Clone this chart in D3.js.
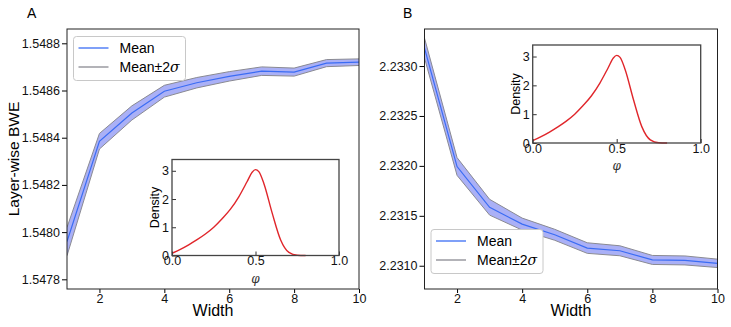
<!DOCTYPE html>
<html>
<head>
<meta charset="utf-8">
<script src="https://cdn.jsdelivr.net/npm/d3@7"></script>
<style>
  body { margin: 0; background: #fff; }
  svg { display: block; font-family: "Liberation Sans", Arial, sans-serif; }
</style>
</head>
<body>
<div id="chart"></div>
<script>
// widths on the x axis
const widths = [1, 2, 3, 4, 5, 6, 7, 8, 9, 10];

// panel A: layer-wise BWE
const meanA  = [1.54796, 1.548385, 1.548505, 1.548597, 1.548633, 1.548660, 1.548682, 1.548678, 1.548716, 1.548720];
const lowerA = [1.54790, 1.548352, 1.548475, 1.548572, 1.548611, 1.548640, 1.548664, 1.548661, 1.548701, 1.548706];
const upperA = [1.54802, 1.548418, 1.548535, 1.548622, 1.548655, 1.548680, 1.548700, 1.548695, 1.548731, 1.548734];

// panel B
const meanB  = [2.23318, 2.231993, 2.231585, 2.231417, 2.231310, 2.231177, 2.231150, 2.231058, 2.231053, 2.231024];
const lowerB = [2.23308, 2.231905, 2.231507, 2.231357, 2.231255, 2.231124, 2.231100, 2.231013, 2.231008, 2.230982];
const upperB = [2.23328, 2.232083, 2.231665, 2.231477, 2.231365, 2.231230, 2.231200, 2.231103, 2.231098, 2.231066];

// inset density curve (same in both panels)
const phi     = [0, 0.05, 0.10, 0.15, 0.20, 0.25, 0.30, 0.35, 0.40, 0.45, 0.48, 0.50, 0.52, 0.55, 0.60, 0.65, 0.70, 0.75, 0.80];
const density = [0.08, 0.22, 0.38, 0.56, 0.76, 1.0, 1.3, 1.64, 2.08, 2.62, 2.95, 3.04, 2.97, 2.55, 1.5, 0.56, 0.11, 0.01, 0];

const ticksX = [2, 4, 6, 8, 10];
const ticksA = [1.5478, 1.5480, 1.5482, 1.5484, 1.5486, 1.5488];
const ticksB = [2.2310, 2.2315, 2.2320, 2.2325, 2.2330];
const insetTicksX = [0, 0.5, 1];
const insetTicksY = [0, 1, 2, 3];

const svgWidth = 731, svgHeight = 327;

const svg = d3.select("#chart").append("svg")
    .attr("width", svgWidth)
    .attr("height", svgHeight);

const fillColor = "#aab0f6";
const edgeColor = "#8a8a92";
const meanColor = "#3a6cf4";

function drawPanel(cfg) {
    const x = d3.scaleLinear().domain([1, 10]).range([cfg.left, cfg.right]);
    const y = d3.scaleLinear().domain(cfg.yDomain).range([cfg.bottom, cfg.top]);

    const clipId = "clip" + cfg.label;
    svg.append("clipPath").attr("id", clipId)
        .append("rect")
        .attr("x", cfg.left).attr("y", cfg.top)
        .attr("width", cfg.right - cfg.left).attr("height", cfg.bottom - cfg.top);

    const g = svg.append("g").attr("clip-path", `url(#${clipId})`);
    const pts = widths.map((w, i) => ({ w: w, m: cfg.mean[i], lo: cfg.lower[i], hi: cfg.upper[i] }));

    g.append("path")
        .datum(pts)
        .attr("fill", fillColor)
        .attr("d", d3.area().x(d => x(d.w)).y0(d => y(d.lo)).y1(d => y(d.hi)));

    ["lo", "hi"].forEach(k => {
        g.append("path")
            .datum(pts)
            .attr("fill", "none")
            .attr("stroke", edgeColor)
            .attr("stroke-width", 1)
            .attr("d", d3.line().x(d => x(d.w)).y(d => y(d[k])));
    });

    g.append("path")
        .datum(pts)
        .attr("fill", "none")
        .attr("stroke", meanColor)
        .attr("stroke-width", 1.2)
        .attr("d", d3.line().x(d => x(d.w)).y(d => y(d.m)));

    // axes
    const xAxis = svg.append("g")
        .attr("transform", `translate(0,${cfg.bottom})`)
        .call(d3.axisBottom(x).tickValues(ticksX).tickSize(4).tickPadding(1).tickFormat(d3.format("d")));
    const yAxis = svg.append("g")
        .attr("transform", `translate(${cfg.left},0)`)
        .call(d3.axisLeft(y).tickValues(cfg.yTicks).tickSize(5).tickPadding(2).tickFormat(d3.format(".4f")));
    [xAxis, yAxis].forEach(a => {
        a.select(".domain").remove();
        a.selectAll(".tick line").attr("stroke", "#000");
        a.selectAll(".tick text").attr("font-size", "12.5px").attr("fill", "#111")
            .attr("font-family", "Liberation Sans, Arial, sans-serif");
    });

    svg.append("rect")
        .attr("x", cfg.left).attr("y", cfg.top)
        .attr("width", cfg.right - cfg.left).attr("height", cfg.bottom - cfg.top)
        .attr("fill", "none").attr("stroke", "#222").attr("stroke-width", 1);

    svg.append("text")
        .attr("x", (cfg.left + cfg.right) / 2)
        .attr("y", 316)
        .attr("text-anchor", "middle")
        .attr("font-size", "16px")
        .text("Width");

    if (cfg.yLabel) {
        svg.append("text")
            .attr("transform", `translate(18.5,${(cfg.top + cfg.bottom) / 2}) rotate(-90)`)
            .attr("text-anchor", "middle")
            .attr("font-size", "15.5px")
            .text(cfg.yLabel);
    }

    svg.append("text")
        .attr("x", cfg.labelX).attr("y", 18)
        .attr("font-size", "14px")
        .text(cfg.label);

    drawLegend(cfg.legend);
    drawInset(cfg.inset);
}

function drawLegend(box) {
    svg.append("rect")
        .attr("x", box.x).attr("y", box.y)
        .attr("width", 112).attr("height", 44)
        .attr("rx", 3)
        .attr("fill", "#fff").attr("stroke", "#c8c8c8");
    const items = [
        { color: meanColor, text: "Mean" },
        { color: edgeColor, text: "Mean±2σ" }
    ];
    items.forEach((item, i) => {
        const yy = box.y + 11.5 + i * 19;
        svg.append("line")
            .attr("x1", box.x + 5).attr("x2", box.x + 35)
            .attr("y1", yy).attr("y2", yy)
            .attr("stroke", item.color).attr("stroke-width", 1.3);
        const t = svg.append("text")
            .attr("x", box.x + 46).attr("y", yy + 5)
            .attr("font-size", "14px");
        if (i === 0) {
            t.text(item.text);
        } else {
            t.append("tspan").text("Mean±2");
            t.append("tspan").attr("font-style", "italic").attr("font-family", "DejaVu Serif, serif").text("σ");
        }
    });
}

function drawInset(box) {
    const ix = d3.scaleLinear().domain([0, 1]).range([box.x, box.x + box.w]);
    const iy = d3.scaleLinear().domain([0, 3.4]).range([box.y + box.h, box.y]);

    svg.append("rect")
        .attr("x", box.x).attr("y", box.y)
        .attr("width", box.w).attr("height", box.h)
        .attr("fill", "#fff").attr("stroke", "none");

    const pts = phi.map((p, i) => ({ p: p, d: density[i] }));
    svg.append("path")
        .datum(pts)
        .attr("fill", "none")
        .attr("stroke", "#e0262b")
        .attr("stroke-width", 1.4)
        .attr("d", d3.line().x(d => ix(d.p)).y(d => iy(d.d)).curve(d3.curveMonotoneX));

    const ax = svg.append("g")
        .attr("transform", `translate(0,${box.y + box.h})`)
        .call(d3.axisBottom(ix).tickValues(insetTicksX).tickSize(-4).tickPadding(1).tickFormat(d3.format(".1f")));
    const ay = svg.append("g")
        .attr("transform", `translate(${box.x},0)`)
        .call(d3.axisLeft(iy).tickValues(insetTicksY).tickSize(-4).tickPadding(3).tickFormat(d3.format("d")));
    [ax, ay].forEach(a => {
        a.select(".domain").remove();
        a.selectAll(".tick line").attr("stroke", "#333");
        a.selectAll(".tick text").attr("font-size", "12.5px").attr("fill", "#111")
            .attr("font-family", "Liberation Sans, Arial, sans-serif");
    });

    svg.append("rect")
        .attr("x", box.x).attr("y", box.y)
        .attr("width", box.w).attr("height", box.h)
        .attr("fill", "none").attr("stroke", "#444").attr("stroke-width", 1.3);

    svg.append("text")
        .attr("x", box.x + box.w / 2).attr("y", box.y + box.h + 27)
        .attr("text-anchor", "middle")
        .attr("font-size", "12px")
        .attr("font-style", "italic")
        .attr("font-family", "DejaVu Serif, serif")
        .attr("fill", "#333")
        .text("φ");

    svg.append("text")
        .attr("transform", `translate(${box.x - 13},${box.y + box.h / 2}) rotate(-90)`)
        .attr("text-anchor", "middle")
        .attr("font-size", "12.5px")
        .text("Density");
}

drawPanel({
    label: "A", labelX: 27,
    left: 67, right: 359, top: 29, bottom: 289,
    yDomain: [1.547759, 1.5488606],
    yTicks: ticksA,
    mean: meanA, lower: lowerA, upper: upperA,
    yLabel: "Layer-wise BWE",
    legend: { x: 73.5, y: 36.5 },
    inset: { x: 172, y: 159.5, w: 167, h: 96 }
});

drawPanel({
    label: "B", labelX: 403,
    left: 424.5, right: 717.5, top: 29, bottom: 289,
    yDomain: [2.230767, 2.233371],
    yTicks: ticksB,
    mean: meanB, lower: lowerB, upper: upperB,
    yLabel: null,
    legend: { x: 431, y: 229.5 },
    inset: { x: 532.7, y: 45, w: 168, h: 98 }
});
</script>
</body>
</html>
